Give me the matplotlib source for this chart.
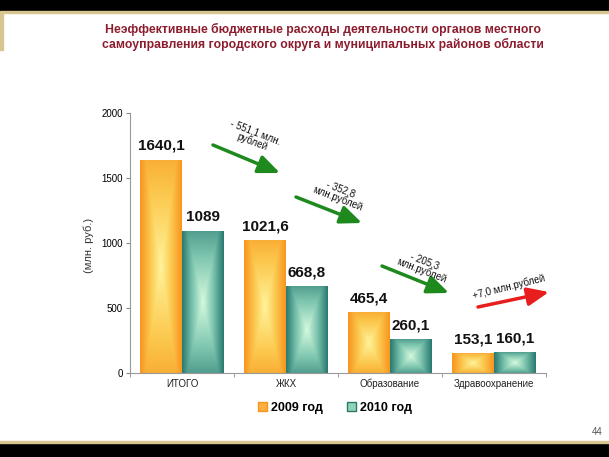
import numpy as np
import matplotlib
matplotlib.use("Agg")
import matplotlib.pyplot as plt
from matplotlib.patches import Rectangle
from matplotlib.colors import LinearSegmentedColormap

plt.rcParams['font.family'] = ['Liberation Sans', 'DejaVu Sans']

# данные
categories = ["ИТОГО", "ЖКХ", "Образование", "Здравоохранение"]
values_2009 = [1640.1, 1021.6, 465.4, 153.1]
values_2010 = [1089, 668.8, 260.1, 160.1]
series_names = ["2009 год", "2010 год"]
yticks = [0, 500, 1000, 1500, 2000]
changes = ["- 551,1 млн.\nрублей", "- 352,8\nмлн.рублей", "- 205,3\nмлн.рублей", "+7,0 млн.рублей"]

title = ("Неэффективные бюджетные расходы деятельности органов местного\n"
         "самоуправления городского округа и муниципальных районов области")

orange_cmap = LinearSegmentedColormap.from_list("o", ["#FFF39A", "#FCC94F", "#F7961F"])
teal_cmap = LinearSegmentedColormap.from_list("t", ["#D4FADF", "#7CC4AE", "#2A7A70"])

W, H = 609, 457
fig = plt.figure(figsize=(W / 100, H / 100), dpi=100)

# рамка слайда
fig.patches.append(Rectangle((0, 1 - 11 / H), 1, 11 / H, transform=fig.transFigure, color="black", zorder=0))
fig.patches.append(Rectangle((0, 1 - 13 / H), 1, 2 / H, transform=fig.transFigure, color="#D8C690", zorder=0))
fig.patches.append(Rectangle((0, 1 - 50 / H), 3 / W, 37 / H, transform=fig.transFigure, color="#D8C690", zorder=0))
fig.patches.append(Rectangle((0, 0), 1, 13 / H, transform=fig.transFigure, color="black", zorder=0))
fig.patches.append(Rectangle((0, 14 / H), 1, 2 / H, transform=fig.transFigure, color="#D8C690", zorder=0))

fig.text(323 / W, 1 - 37 / H, title, ha="center", va="center", fontsize=8.8,
         fontweight="bold", color="#8C1D2E", linespacing=1.1)

ax = fig.add_axes([130 / W, 1 - 373 / H, 416 / W, 260 / H])

x = np.arange(len(categories))
bw = 0.4

u = np.linspace(-1, 1, 80)
uu, vv = np.meshgrid(u, u)
grad = np.clip(np.maximum(np.abs(uu), 0.75 * np.abs(vv)), 0, 1)

bars1 = ax.bar(x - bw / 2, values_2009, bw, color="none", edgecolor="none")
bars2 = ax.bar(x + bw / 2, values_2010, bw, color="none", edgecolor="none")

for bars, cmap in [(bars1, orange_cmap), (bars2, teal_cmap)]:
    for b in bars:
        x0, w, h = b.get_x(), b.get_width(), b.get_height()
        im = ax.imshow(grad, extent=[x0, x0 + w, 0, h], aspect="auto", cmap=cmap,
                       vmin=0, vmax=1, zorder=2, interpolation="bilinear")
        im.set_clip_path(b)

for bars, vals in [(bars1, values_2009), (bars2, values_2010)]:
    for b, v in zip(bars, vals):
        ax.annotate(f"{v:g}".replace(".", ","), (b.get_x() + b.get_width() / 2, v),
                    xytext=(0, 5), textcoords="offset points", ha="center", va="bottom",
                    fontsize=11, fontweight="bold", color="#111111")

ax.set_xlim(-0.5, len(categories) - 0.5)
ax.set_ylim(0, 2000)
ax.set_yticks(yticks)
ax.set_yticklabels([str(t) for t in yticks], fontsize=7)
ax.set_xticks(x)
ax.set_xticklabels(categories, fontsize=7, color="#222222")
ax.tick_params(axis="x", length=0, pad=4)
ax.set_xticks(np.arange(len(categories) + 1) - 0.5, minor=True)
ax.tick_params(axis="x", which="minor", length=3, color="#888888")
ax.tick_params(axis="y", length=3, color="#888888", pad=2)
for s in ["top", "right"]:
    ax.spines[s].set_visible(False)
for s in ["left", "bottom"]:
    ax.spines[s].set_color("#999999")
ax.set_ylabel("(млн. руб.)", fontsize=8, color="#333333", labelpad=2)
ax.yaxis.set_label_coords(-36 / 416, 0.49)

# стрелки изменений (в пикселях фигуры)
arrows = [((213, 145), (280, 173), "#1E8A1E"),
          ((296, 197), (362, 223), "#1E8A1E"),
          ((382, 266), (449, 293), "#1E8A1E"),
          ((478, 307), (549, 292), "#E81E1E")]
text_pos = [((254, 137), -21), ((339, 194), -21), ((423, 266), -21), ((509, 287), 14)]
for (p0, p1, c), (tp, rot), txt in zip(arrows, text_pos, changes):
    ax.annotate("", xy=(p1[0] / W, 1 - p1[1] / H), xytext=(p0[0] / W, 1 - p0[1] / H),
                xycoords="figure fraction", textcoords="figure fraction",
                arrowprops=dict(arrowstyle="-|>,head_length=1.3,head_width=0.55",
                                color=c, lw=2.5, shrinkA=0, shrinkB=0),
                annotation_clip=False)
    fig.text(tp[0] / W, 1 - tp[1] / H, txt, ha="center", va="center", rotation=rot,
             rotation_mode="anchor", fontsize=7, color="#111111", linespacing=1.0)

handles = [Rectangle((0, 0), 1, 1, facecolor="#FBB040", edgecolor="#F7961F"),
           Rectangle((0, 0), 1, 1, facecolor="#8FD3B5", edgecolor="#2A7A70")]
fig.legend(handles, series_names, loc="center", bbox_to_anchor=(335 / W, 1 - 408 / H),
           ncol=2, frameon=False, prop={"size": 9, "weight": "bold"},
           handlelength=0.7, handleheight=0.7, handletextpad=0.3, columnspacing=2.0)

fig.text(597 / W, 1 - 432 / H, "44", ha="center", va="center", fontsize=7, color="#555555")

fig.savefig("out.png", dpi=100)
